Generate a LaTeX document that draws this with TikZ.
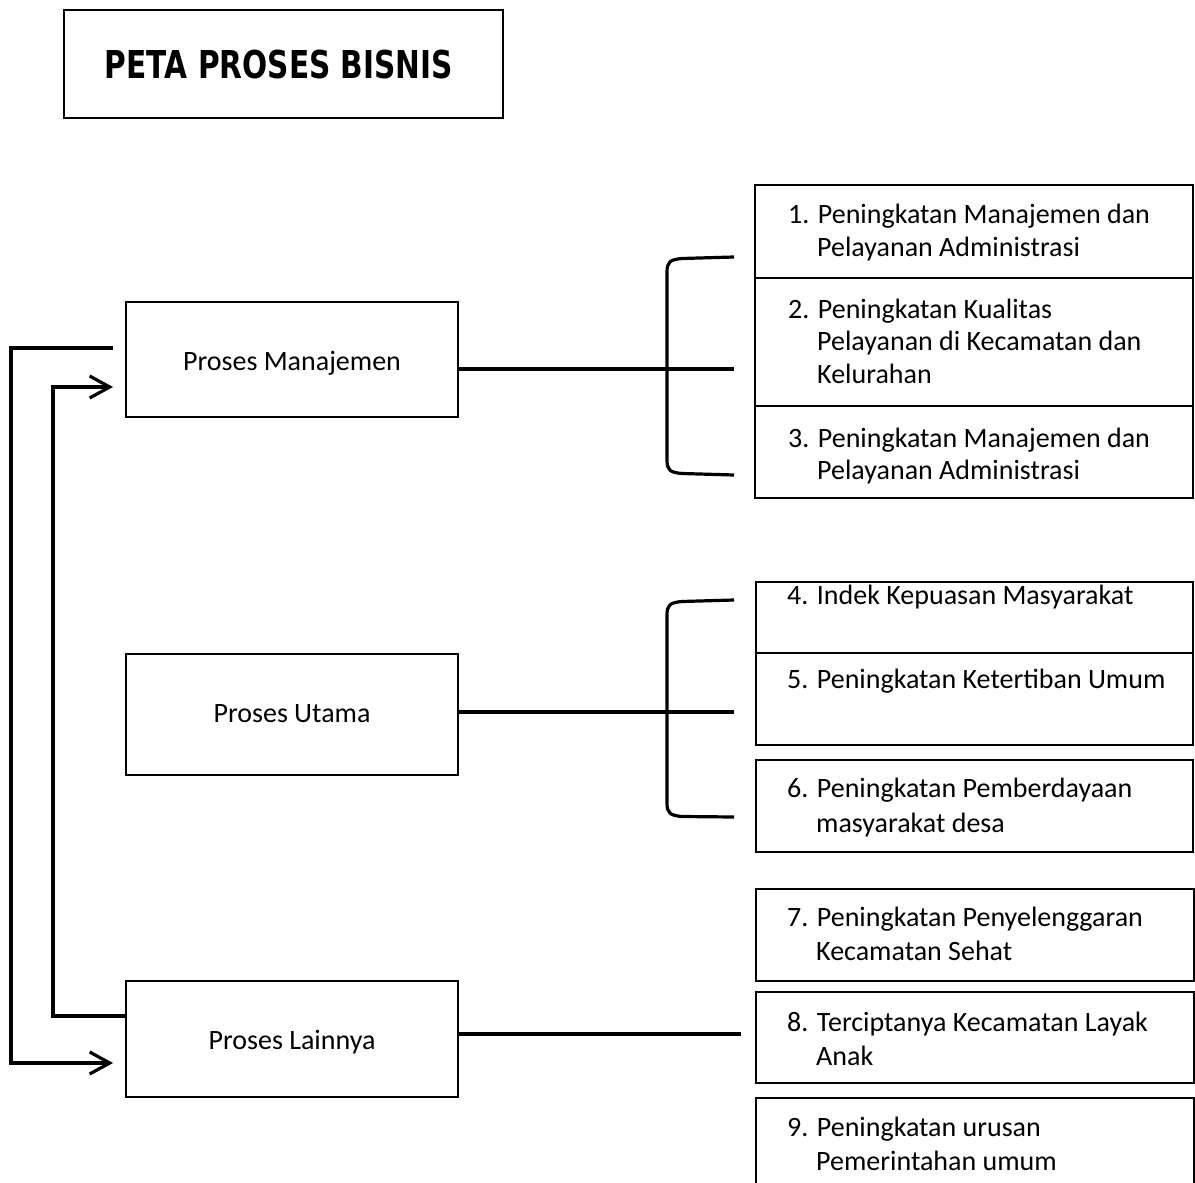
\documentclass[tikz,border=0pt]{standalone}
\usepackage{fontspec}
\setmainfont{Carlito}
\newfontfamily\titlefont{DejaVu Sans}
\usetikzlibrary{arrows.meta}
\begin{document}
\begin{tikzpicture}[x=1pt,y=-1pt,line join=miter,
  box/.style={draw, line width=2.8pt, inner sep=0pt},
  conn/.style={line width=3.2pt},
  arr/.style={conn, -{Straight Barb[length=20pt,width=22pt,line width=3.2pt]}},
  lbl/.style={font=\fontsize{28}{33}\selectfont, inner sep=0pt, anchor=base west},
  mid/.style={font=\fontsize{28}{33}\selectfont, inner sep=0pt, anchor=base}]
\useasboundingbox (0,0) rectangle (1195,1183);

% title
\node[box, minimum width=439pt, minimum height=108pt] (title) at (283.5,64) {};
\node[inner sep=0pt, anchor=base] (titletext) at (279,78)
  {\resizebox{348pt}{28.5pt}{\titlefont\bfseries PETA PROSES BISNIS}};

% left boxes
\node[box, minimum width=332pt, minimum height=115pt] (pm) at (292,359.5) {};
\node[box, minimum width=332pt, minimum height=121pt] (pu) at (292,714.5) {};
\node[box, minimum width=332pt, minimum height=116pt] (pl) at (292,1039) {};
\node[mid] (pmt) at (292,370) {Proses Manajemen};
\node[mid] (put) at (292,722) {Proses Utama};
\node[mid] (plt) at (292,1049) {Proses Lainnya};

% right boxes
\node[box, minimum width=438pt, minimum height=313pt] (r1) at (974,341.5) {};
\draw[line width=2.8pt] (r1.west |- 0,278) -- (r1.east |- 0,278);
\draw[line width=2.8pt] (r1.west |- 0,406) -- (r1.east |- 0,406);
\node[box, minimum width=437pt, minimum height=163pt] (r45) at (974.5,663.5) {};
\draw[line width=2.8pt] (r45.west |- 0,653) -- (r45.east |- 0,653);
\node[box, minimum width=437pt, minimum height=92pt] (r6) at (974.5,806) {};
\node[box, minimum width=438pt, minimum height=92pt] (r7) at (975,935) {};
\node[box, minimum width=438pt, minimum height=91pt] (r8) at (975,1037.5) {};
\node[box, minimum width=438pt, minimum height=102pt] (r9) at (975,1149) {};

% right texts
\node[lbl] (t1a) at (788,223) {1. Peningkatan Manajemen dan};
\node[lbl] (t1b) at (817,256) {Pelayanan Administrasi};
\node[lbl] (t2a) at (788,318) {2. Peningkatan Kualitas};
\node[lbl] (t2b) at (817,350.5) {Pelayanan di Kecamatan dan};
\node[lbl] (t2c) at (817,383) {Kelurahan};
\node[lbl] (t3a) at (788,447) {3. Peningkatan Manajemen dan};
\node[lbl] (t3b) at (817,479) {Pelayanan Administrasi};
\node[lbl] (t4a) at (787,604) {4. Indek Kepuasan Masyarakat};
\node[lbl] (t5a) at (787,688) {5. Peningkatan Ketertiban Umum};
\node[lbl] (t6a) at (787,797) {6. Peningkatan Pemberdayaan};
\node[lbl] (t6b) at (816,832) {masyarakat desa};
\node[lbl] (t7a) at (787,926) {7. Peningkatan Penyelenggaran};
\node[lbl] (t7b) at (816,960.5) {Kecamatan Sehat};
\node[lbl] (t8a) at (787,1031.5) {8. Terciptanya Kecamatan Layak};
\node[lbl] (t8b) at (816,1065) {Anak};
\node[lbl] (t9a) at (787,1136.5) {9. Peningkatan urusan};
\node[lbl] (t9b) at (816,1170) {Pemerintahan umum};

% bracket coordinates
\coordinate (b1t) at (734,257);
\coordinate (b1m) at (734,369);
\coordinate (b1b) at (734,475);
\coordinate (b2t) at (734,600);
\coordinate (b2m) at (734,712);
\coordinate (b2b) at (734,817);
\coordinate (c8) at (741,1034);

% bracket 1
\draw[conn] (b1t) -- (682,258.5) .. controls (670,259.5) and (667,262) .. (667,272)
  -- (667,460) .. controls (667,470) and (670,472.5) .. (682,473.5) -- (b1b);
\draw[conn] (pm.east |- b1m) -- (b1m);
% bracket 2
\draw[conn] (b2t) -- (682,601.5) .. controls (670,602.5) and (667,605) .. (667,615)
  -- (667,803) .. controls (667,813) and (670,815.5) .. (682,816.5) -- (b2b);
\draw[conn] (pu.east |- b2m) -- (b2m);
% lainnya line
\draw[conn] (pl.east |- c8) -- (c8);

% left loop arrows
\coordinate (o1) at (113,348);
\coordinate (o2) at (11,348);
\coordinate (o3) at (11,1063);
\coordinate (o4) at (113,1063);
\draw[arr] (o1) -- (o2) -- (o3) -- (o4);
\coordinate (i1) at (53,1016);
\coordinate (i2) at (53,387);
\coordinate (i3) at (113,387);
\draw[arr] (pl.west |- i1) -- (i1) -- (i2) -- (i3);
\end{tikzpicture}
\end{document}
